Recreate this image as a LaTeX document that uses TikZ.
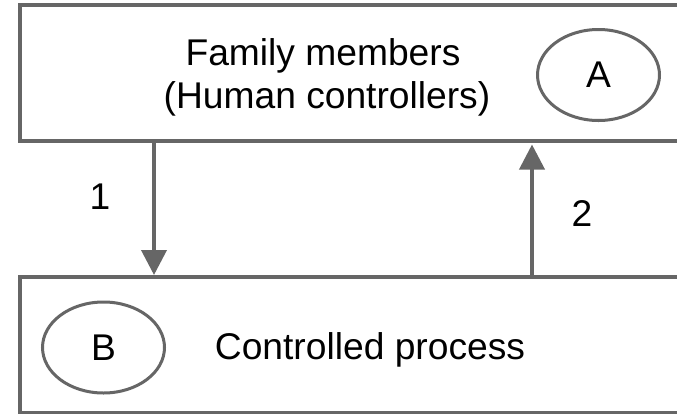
\documentclass[tikz,border=0pt]{standalone}
\usepackage{fontspec}
\setmainfont{Liberation Sans}
\usetikzlibrary{arrows.meta,shapes.geometric}
\definecolor{edgegray}{HTML}{666666}
\tikzset{
  blockbox/.style={draw=edgegray, line width=4pt, rectangle, outer sep=0pt, inner sep=0pt},
  tagoval/.style={draw=edgegray, line width=3pt, ellipse, outer sep=0pt, inner sep=0pt,
    minimum width=122pt, minimum height=91pt, font=\fontsize{37.2}{43}\selectfont},
  label/.style={font=\fontsize{37.2}{43}\selectfont, inner sep=0pt, anchor=base},
  flow/.style={draw=edgegray, line width=3.8pt, -{Triangle[width=25pt,length=25pt]}}
}
\begin{document}
\begin{tikzpicture}[x=1pt,y=-1pt]
  \useasboundingbox (0,0) rectangle (677,413);
  \clip (0,0) rectangle (677,413);
  \fill[white] (0,0) rectangle (677,413);

  % controller and controlled process
  \node[blockbox, minimum width=660pt, minimum height=135.5pt] (ctrl) at (350,72.75) {};
  \node[blockbox, minimum width=660pt, minimum height=136pt] (proc) at (350,345) {};

  \node[label] (ctrlA) at (323,65) {Family members};
  \node[label] (ctrlB) at (327,108) {(Human controllers)};
  \node[label] (procT) at (370,359) {Controlled process};

  \node[tagoval] (A) at (598.5,75) {A};
  \node[tagoval] (B) at (103.5,347.5) {B};

  % control action and feedback
  \coordinate (down) at (154,0);
  \coordinate (up) at (532,0);
  \draw[flow, shorten >=2pt] (ctrl.south -| down) -- (proc.north -| down);
  \draw[flow, shorten >=4pt] (proc.north -| up) -- (ctrl.south -| up);

  \node[label] (n1) at (100,209) {1};
  \node[label] (n2) at (582,226) {2};
\end{tikzpicture}
\end{document}
